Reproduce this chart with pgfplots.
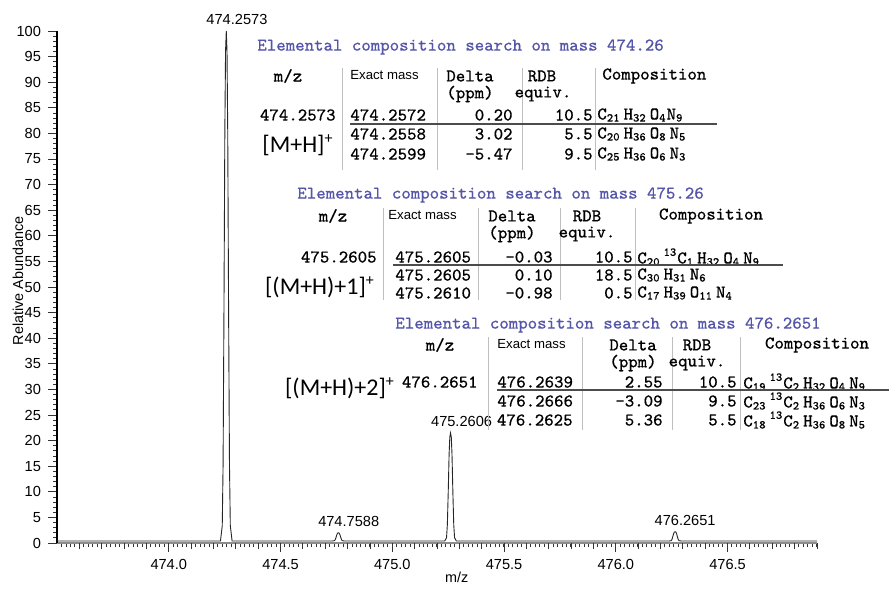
\documentclass[border=0pt]{standalone}
\usepackage{pgfplots}
\pgfplotsset{compat=1.18}
\usepackage{fontspec}
\setmainfont{Liberation Sans}
\newfontfamily\mono[FakeBold=0.35]{Latin Modern Mono}
\newfontfamily\calib{Carlito}
\definecolor{ttl}{RGB}{85,85,170}
\newcommand{\ms}{\fontsize{9}{10}\selectfont\mono}
\newcommand{\ttlf}{\fontsize{9}{10}\selectfont\mono\color{ttl}}
\newcommand{\hs}{\fontsize{6.6}{8}\selectfont}
\newcommand{\lab}{\calib\fontsize{12}{14}\selectfont}
\newcommand{\e}[2]{#1\textsubscript{#2}}
\newcommand{\iso}[1]{\textsuperscript{13}C\textsubscript{#1}}
\newcommand{\tx}[4]{\node[anchor=#1, inner sep=0pt] at (#2,#3) {#4};}
\begin{document}
\begin{tikzpicture}
\begin{axis}[
  at={(28.5pt,-271.5pt)}, anchor=south west,
  width=380pt, height=256pt, scale only axis,
  xmin=473.5, xmax=476.9, ymin=0, ymax=100,
  clip=false,
  axis lines*=left,
  x axis line style={black!45, line width=1.1pt},
  y axis line style={black, line width=0.6pt},
  tick align=outside,
  major tick length=4.5pt, minor tick length=2pt,
  tick style={black!80, line width=0.4pt},
  xtick={474,474.5,...,476.5},
  minor xtick={473.52,473.54,...,476.89},
  extra x ticks={473.6,473.7,...,476.85},
  extra x tick labels={},
  extra x tick style={major tick length=3.2pt},
  ytick={0,5,...,100},
  minor y tick num=4,
  scaled x ticks=false,
  /pgf/number format/assume math mode=true,
  tick label style={font=\fontsize{7.3}{8}\selectfont},
  x tick label style={/pgf/number format/fixed, /pgf/number format/fixed zerofill,
    /pgf/number format/precision=1, /pgf/number format/1000 sep={}},
  xlabel={m/z}, ylabel={Relative Abundance},
  label style={font=\fontsize{7.2}{8}\selectfont},
  xlabel style={at={(axis description cs:0.526,-0.068)}, anchor=center},
  ylabel style={at={(axis description cs:-0.0513,0.512)}, anchor=center},
]
\addplot[black!85, line width=0.45pt] coordinates {
(473.5,0.4)
(474.2313,0.4)(474.2393,3.39)(474.2430,15.3)(474.2469,45.2)(474.2508,80.1)(474.2540,96.0)(474.2573,100)(474.2606,96.0)(474.2638,80.1)(474.2677,45.2)(474.2716,15.3)(474.2753,3.39)(474.2833,0.4)
(474.7328,0.4)(474.7408,0.45)(474.7445,0.64)(474.7484,1.12)(474.7523,1.68)(474.7555,1.94)(474.7588,2.0)(474.7621,1.94)(474.7653,1.68)(474.7692,1.12)(474.7731,0.64)(474.7768,0.45)(474.7848,0.4)
(475.2346,0.4)(475.2426,1.03)(475.2463,3.57)(475.2502,9.9)(475.2541,17.3)(475.2573,20.7)(475.2606,21.5)(475.2639,20.7)(475.2671,17.3)(475.2710,9.9)(475.2749,3.57)(475.2786,1.03)(475.2866,0.4)
(476.2391,0.4)(476.2471,0.45)(476.2508,0.67)(476.2547,1.21)(476.2586,1.84)(476.2618,2.13)(476.2651,2.2)(476.2684,2.13)(476.2716,1.84)(476.2755,1.21)(476.2794,0.67)(476.2831,0.45)(476.2911,0.4)
(476.9,0.4)
};
\node[font=\fontsize{7.3}{8}\selectfont, anchor=south, inner sep=0pt, yshift=3pt] at (axis cs:474.305,100) {474.2573};
\node[font=\fontsize{7.3}{8}\selectfont, anchor=south, inner sep=0pt, yshift=3pt] at (axis cs:474.805,2.0) {474.7588};
\node[font=\fontsize{7.3}{8}\selectfont, anchor=south, inner sep=0pt, yshift=3pt] at (axis cs:475.31,21.5) {475.2606};
\node[font=\fontsize{7.3}{8}\selectfont, anchor=south, inner sep=0pt, yshift=3pt] at (axis cs:476.31,2.2) {476.2651};
\end{axis}
\begin{scope}[x=0.5pt, y=-0.5pt]
% ---------- table 1 ----------
\tx{west}{257}{47}{\ttlf Elemental composition search on mass 474.26}
\foreach \sx in {342,437,522,595} {\draw[black!25, line width=0.4pt] (\sx,68) -- (\sx,170);}
\tx{center}{288}{76}{\ms m/z}
\tx{west}{350}{75}{\hs Exact mass}
\tx{center}{470}{76}{\ms Delta}
\tx{center}{470}{94}{\ms (ppm)}
\tx{center}{542}{76}{\ms RDB}
\tx{center}{543}{94}{\ms equiv.}
\tx{west}{602}{76}{\ms Composition}
\tx{east}{336}{115}{\ms 474.2573}
\tx{west}{350}{115}{\ms 474.2572}
\tx{east}{513}{115}{\ms 0.20}
\tx{east}{593}{115}{\ms 10.5}
\tx{west}{597}{115}{\ms \e{C}{21}\,\e{H}{32}\,\e{O}{4}\e{N}{9}}
\draw[black!70, line width=0.8pt] (350,124) -- (717,124);
\tx{west}{350}{134}{\ms 474.2558}
\tx{east}{513}{134}{\ms 3.02}
\tx{east}{593}{134}{\ms 5.5}
\tx{west}{597}{134}{\ms \e{C}{20}\,\e{H}{36}\,\e{O}{8}\,\e{N}{5}}
\tx{west}{350}{154}{\ms 474.2599}
\tx{east}{513}{154}{\ms -5.47}
\tx{east}{593}{154}{\ms 9.5}
\tx{west}{597}{154}{\ms \e{C}{25}\,\e{H}{36}\,\e{O}{6}\,\e{N}{3}}
\tx{center}{298}{145}{\lab [M+H]\textsuperscript{+}}
% ---------- table 2 ----------
\tx{west}{297}{195}{\ttlf Elemental composition search on mass 475.26}
\foreach \sx in {383,478,560,635} {\draw[black!25, line width=0.4pt] (\sx,208) -- (\sx,300);}
\tx{center}{333}{216}{\ms m/z}
\tx{west}{388}{215}{\hs Exact mass}
\tx{center}{512}{216}{\ms Delta}
\tx{center}{512}{234}{\ms (ppm)}
\tx{center}{587}{216}{\ms RDB}
\tx{center}{587}{234}{\ms equiv.}
\tx{center}{711}{216}{\ms Composition}
\tx{east}{377}{257}{\ms 475.2605}
\tx{west}{395}{257}{\ms 475.2605}
\tx{east}{553}{257}{\ms -0.03}
\tx{east}{633}{257}{\ms 10.5}
\tx{west}{637}{257}{\ms \e{C}{20}\,\iso{1}\,\e{H}{32}\,\e{O}{4}\,\e{N}{9}}
\draw[black!70, line width=0.8pt] (393,265) -- (783,265);
\tx{west}{395}{275}{\ms 475.2605}
\tx{east}{553}{275}{\ms 0.10}
\tx{east}{633}{275}{\ms 18.5}
\tx{west}{637}{275}{\ms \e{C}{30}\,\e{H}{31}\,\e{N}{6}}
\tx{west}{395}{293}{\ms 475.2610}
\tx{east}{553}{293}{\ms -0.98}
\tx{east}{633}{293}{\ms 0.5}
\tx{west}{637}{293}{\ms \e{C}{17}\,\e{H}{39}\,\e{O}{11}\,\e{N}{4}}
\tx{center}{320}{287}{\lab [(M+H)+1]\textsuperscript{+}}
% ---------- table 3 ----------
\tx{west}{395}{325}{\ttlf Elemental composition search on mass 476.2651}
\foreach \sx in {488,582,672,740} {\draw[black!25, line width=0.4pt] (\sx,337) -- (\sx,430);}
\tx{center}{440}{345}{\ms m/z}
\tx{west}{497}{344}{\hs Exact mass}
\tx{center}{633}{345}{\ms Delta}
\tx{center}{633}{363}{\ms (ppm)}
\tx{center}{697}{345}{\ms RDB}
\tx{center}{697}{363}{\ms equiv.}
\tx{center}{817}{345}{\ms Composition}
\tx{east}{478}{382}{\ms 476.2651}
\tx{west}{497}{382}{\ms 476.2639}
\tx{east}{663}{382}{\ms 2.55}
\tx{east}{737}{382}{\ms 10.5}
\tx{west}{743}{382}{\ms \e{C}{19}\,\iso{2}\,\e{H}{32}\,\e{O}{4}\,\e{N}{9}}
\draw[black!70, line width=0.8pt] (497,390) -- (889,390);
\tx{west}{497}{401}{\ms 476.2666}
\tx{east}{663}{401}{\ms -3.09}
\tx{east}{737}{401}{\ms 9.5}
\tx{west}{743}{401}{\ms \e{C}{23}\,\iso{2}\,\e{H}{36}\,\e{O}{6}\,\e{N}{3}}
\node[anchor=west, inner sep=0pt, fill=white, outer sep=0pt] at (493,420) {\hspace{2pt}\ms 476.2625};
\tx{east}{663}{420}{\ms 5.36}
\tx{east}{737}{420}{\ms 5.5}
\tx{west}{743}{420}{\ms \e{C}{18}\,\iso{2}\,\e{H}{36}\,\e{O}{8}\,\e{N}{5}}
\draw[black!25, line width=0.4pt] (488,410) -- (488,430);
\tx{center}{340}{388}{\lab [(M+H)+2]\textsuperscript{+}}
\end{scope}
\pgfresetboundingbox
\path[use as bounding box] (0pt,0pt) rectangle (444.5pt,-294.5pt);
\end{tikzpicture}
\end{document}
